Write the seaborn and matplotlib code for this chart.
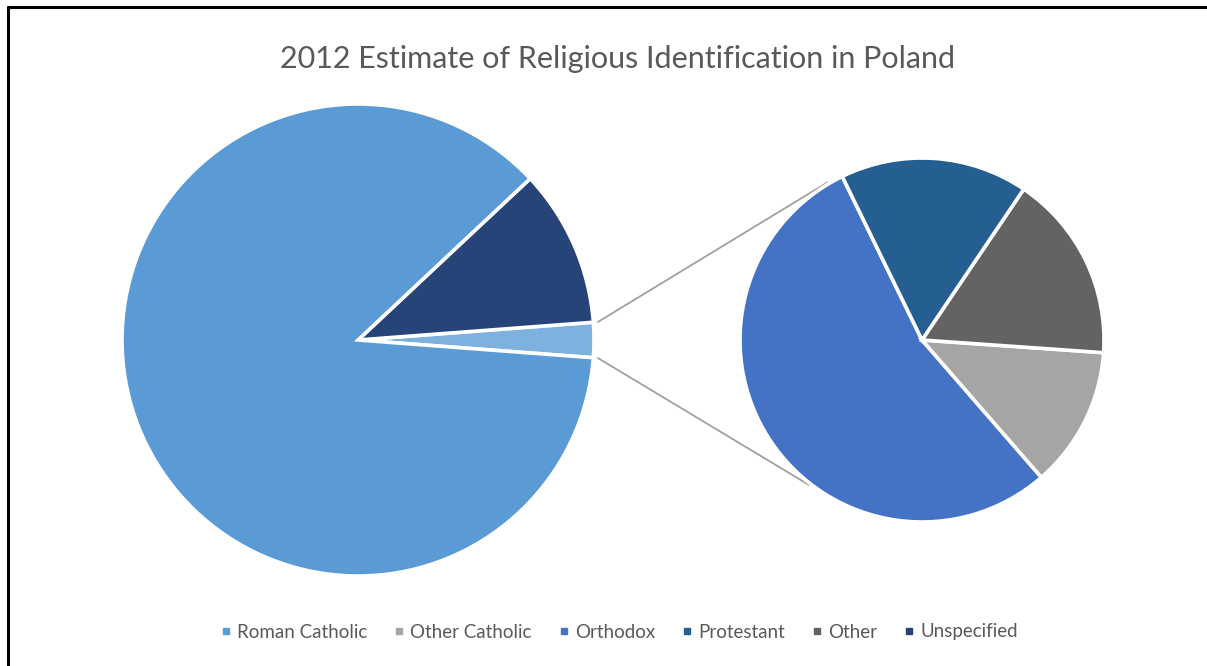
import numpy as np
import matplotlib
matplotlib.use("Agg")
import matplotlib.pyplot as plt
import seaborn as sns
from matplotlib.lines import Line2D

categories = ["Roman Catholic", "Other Catholic", "Orthodox", "Protestant", "Other", "Unspecified"]
values = [86.9, 0.3, 1.3, 0.4, 0.4, 10.8]
colors = ["#5B9BD5", "#A5A5A5", "#4472C4", "#255E91", "#636363", "#264478"]
combined_color = "#7FB1DE"
secondary_order = ["Orthodox", "Other Catholic", "Other", "Protestant"]
title = "2012 Estimate of Religious Identification in Poland"

sns.set_theme(style="white")
plt.rcParams['font.family'] = ['Lato', 'DejaVu Sans']

val = dict(zip(categories, values))
col = dict(zip(categories, colors))

W, H = 1207, 666
fig = plt.figure(figsize=(W / 100, H / 100), dpi=100)
ax = fig.add_axes([0, 0, 1, 1])

scale = 236.0
cx_px, cy_px = 358.0, 340.0

other_total = sum(val[c] for c in secondary_order)
main_vals = [other_total, val["Unspecified"], val["Roman Catholic"]]
main_cols = [combined_color, col["Unspecified"], col["Roman Catholic"]]
half = other_total / sum(main_vals) * 360 / 2
wp = dict(edgecolor="white", linewidth=2.6)
ax.pie(main_vals, colors=main_cols, startangle=-half, counterclock=True,
       radius=1.0, center=(0, 0), wedgeprops=wp, frame=True)

sec_center = ((922 - cx_px) / scale, 0.0)
sec_r = 182 / scale
sec_vals = [val[c] for c in secondary_order]
sec_cols = [col[c] for c in secondary_order]
ax.pie(sec_vals, colors=sec_cols, startangle=116, counterclock=True,
       radius=sec_r, center=sec_center, wedgeprops=wp, frame=True)

# connector lines
r1 = 1.02
for a_main, a_sec in [(half, 121.0), (-half, 232.0)]:
    x0 = r1 * np.cos(np.radians(a_main))
    y0 = r1 * np.sin(np.radians(a_main))
    x1 = sec_center[0] + sec_r * 1.01 * np.cos(np.radians(a_sec))
    y1 = sec_center[1] + sec_r * 1.01 * np.sin(np.radians(a_sec))
    ax.plot([x0, x1], [y0, y1], color="#A0A0A0", lw=1.3, zorder=0)

ax.set_xlim(-cx_px / scale, (W - cx_px) / scale)
ax.set_ylim(-(H - cy_px) / scale, cy_px / scale)
ax.set_aspect('equal', adjustable='box')
ax.axis('off')

fig.text(618 / W, 1 - 59 / H, title, ha='center', va='center',
         fontsize=22, color="#595959")

handles = [Line2D([], [], marker='s', linestyle='none', markersize=4.5,
                  markerfacecolor=col[c], markeredgecolor=col[c]) for c in categories]
leg = fig.legend(handles, categories, loc='center', bbox_to_anchor=(619 / W, 1 - 632 / H),
                 ncol=6, frameon=False, fontsize=13.5, handlelength=0.6,
                 handletextpad=0.3, columnspacing=1.4, labelcolor="#595959")

# border lines (top and left)
fig.add_artist(Line2D([8 / W, 8 / W], [0, 1 - 7 / H], color='black', lw=2.2,
                      transform=fig.transFigure))
fig.add_artist(Line2D([8 / W, 1.01], [1 - 7 / H, 1 - 7 / H], color='black', lw=2.2,
                      transform=fig.transFigure))

fig.savefig("out.png", dpi=100)
